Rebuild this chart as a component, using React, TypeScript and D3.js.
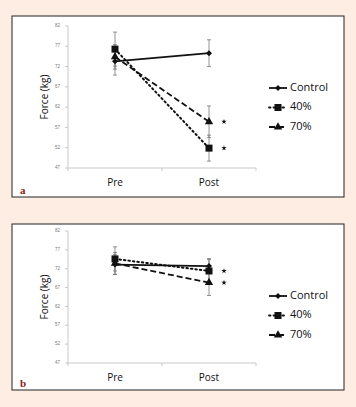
import React from "react";
import * as d3 from "d3";

const categories = ["Pre", "Post"];
const yTicks = [47, 52, 57, 62, 67, 72, 77, 82];
const seriesNames = ["Control", "40%", "70%"];

const controlA = [73.3, 75.3];
const controlAErr = [3.4, 3.3];
const pct40A = [76.3, 51.9];
const pct40AErr = [4.2, 3.2];
const pct70A = [74.4, 58.4];
const pct70AErr = [3.0, 3.9];

const controlB = [73.1, 72.7];
const controlBErr = [2.6, 2.0];
const pct40B = [74.6, 71.4];
const pct40BErr = [3.2, 3.0];
const pct70B = [73.4, 68.3];
const pct70BErr = [2.9, 3.4];

const starsA = [58.4, 51.9];
const starsB = [71.4, 68.3];

type PanelProps = {
  top: number;
  bottom: number;
  yTop: number;
  yBottom: number;
  series: { values: number[]; errs: number[] }[];
  stars: number[];
  label: string;
};

const dashes = [null, "1.5,3", "6,3"];

function Marker({ kind, x, y }: { kind: number; x: number; y: number }) {
  if (kind === 0) {
    const s = 3;
    return <path d={`M${x},${y - s}L${x + s},${y}L${x},${y + s}L${x - s},${y}Z`} fill="#111" />;
  }
  if (kind === 1) {
    return <rect x={x - 3.5} y={y - 3.5} width={7} height={7} fill="#111" />;
  }
  return <path d={d3.symbol(d3.symbolTriangle, 30)() || ""} transform={`translate(${x},${y})`} fill="#111" />;
}

function Panel({ top, bottom, yTop, yBottom, series, stars, label }: PanelProps) {
  const x = d3.scaleBand<string>().domain(categories).range([68, 256]);
  const y = d3.scaleLinear().domain([47, 82]).range([yBottom, yTop]);
  const cx = (c: string) => (x(c) as number) + x.bandwidth() / 2;
  const line = d3
    .line<number>()
    .x((_, i) => cx(categories[i]))
    .y((d) => y(d));
  const legendY = [0, 1, 2].map((i) => top + 72 + i * 19.5);
  const star = d3.symbol(d3.symbolStar, 9)() || "";
  return (
    <g>
      <rect x={12} y={top} width={332} height={bottom - top} fill="#fff" stroke="#222" strokeWidth={1} />
      <line x1={68} x2={68} y1={yTop} y2={yBottom} stroke="#bbb" strokeWidth={0.8} />
      <line x1={68} x2={256} y1={yBottom} y2={yBottom} stroke="#bbb" strokeWidth={0.8} />
      {yTicks.map((t) => (
        <g key={t}>
          <line x1={65} x2={68} y1={y(t)} y2={y(t)} stroke="#bbb" strokeWidth={0.8} />
          <text x={60} y={y(t)} fontSize={4.5} fill="#777" textAnchor="end" dominantBaseline="middle" fontFamily="Liberation Sans, Arial">
            {t}
          </text>
        </g>
      ))}
      {[68, 162, 256].map((t) => (
        <line key={t} x1={t} x2={t} y1={yBottom} y2={yBottom + 3} stroke="#bbb" strokeWidth={0.8} />
      ))}
      {categories.map((c) => (
        <text key={c} x={cx(c)} y={yBottom + 18} fontSize={10} fill="#111" textAnchor="middle" fontFamily="Open Sans, sans-serif">
          {c}
        </text>
      ))}
      <text
        transform={`translate(45,${(yTop + yBottom) / 2}) rotate(-90)`}
        fontSize={10}
        fill="#111"
        textAnchor="middle"
        dominantBaseline="middle"
        fontFamily="Open Sans, sans-serif"
      >
        Force (kg)
      </text>
      {series.map((s, si) =>
        s.values.map((v, i) => {
          const px = cx(categories[i]);
          const hi = y(v + s.errs[i]);
          const lo = y(v - s.errs[i]);
          return (
            <g key={`e${si}-${i}`} stroke="#777" strokeWidth={0.8}>
              <line x1={px} x2={px} y1={hi} y2={lo} />
              <line x1={px - 2} x2={px + 2} y1={hi} y2={hi} />
              <line x1={px - 2} x2={px + 2} y1={lo} y2={lo} />
            </g>
          );
        })
      )}
      {series.map((s, si) => (
        <path
          key={`l${si}`}
          d={line(s.values) || ""}
          fill="none"
          stroke="#111"
          strokeWidth={si === 1 ? 2 : 1.8}
          strokeDasharray={dashes[si] || undefined}
          strokeLinecap={si === 1 ? "round" : "butt"}
        />
      ))}
      {series.map((s, si) =>
        s.values.map((v, i) => <Marker key={`m${si}-${i}`} kind={si} x={cx(categories[i])} y={y(v)} />)
      )}
      {stars.map((s, i) => (
        <path key={`s${i}`} d={star} transform={`translate(224,${y(s)})`} fill="#111" />
      ))}
      {seriesNames.map((n, i) => (
        <g key={n}>
          <line
            x1={269}
            x2={287}
            y1={legendY[i]}
            y2={legendY[i]}
            stroke="#111"
            strokeWidth={1.8}
            strokeDasharray={dashes[i] || undefined}
            strokeLinecap={i === 1 ? "round" : "butt"}
          />
          <Marker kind={i} x={278} y={legendY[i]} />
          <text x={290} y={legendY[i]} fontSize={11} fill="#111" dominantBaseline="middle" fontFamily="Open Sans, sans-serif">
            {n}
          </text>
        </g>
      ))}
      <text x={20} y={bottom - 3} fontSize={11} fill="#8b1a1a" fontWeight="bold" fontFamily="Liberation Serif, serif">
        {label}
      </text>
    </g>
  );
}

export default function App() {
  return (
    <svg width={356} height={407} style={{ position: "absolute", left: 0, top: 0 }}>
      <rect width={356} height={407} fill="#fdede3" />
      <Panel
        top={16}
        bottom={197}
        yTop={26}
        yBottom={168}
        series={[
          { values: controlA, errs: controlAErr },
          { values: pct40A, errs: pct40AErr },
          { values: pct70A, errs: pct70AErr },
        ]}
        stars={starsA}
        label="a"
      />
      <Panel
        top={224}
        bottom={390}
        yTop={231}
        yBottom={363}
        series={[
          { values: controlB, errs: controlBErr },
          { values: pct40B, errs: pct40BErr },
          { values: pct70B, errs: pct70BErr },
        ]}
        stars={starsB}
        label="b"
      />
    </svg>
  );
}
